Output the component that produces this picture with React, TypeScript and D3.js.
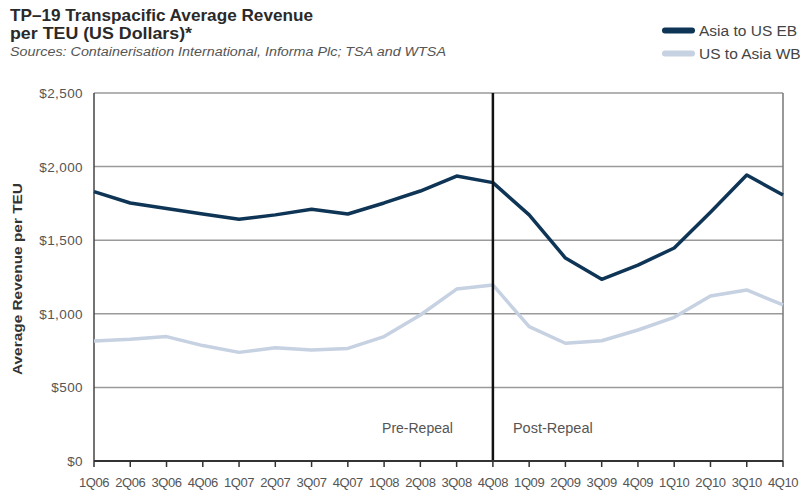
import React from "react";
import * as d3 from "d3";

const quarters = ["1Q06","2Q06","3Q06","4Q06","1Q07","2Q07","3Q07","4Q07","1Q08","2Q08","3Q08","4Q08","1Q09","2Q09","3Q09","4Q09","1Q10","2Q10","3Q10","4Q10"];
const asiaToUsEB = [1830,1753,1715,1678,1642,1672,1710,1678,1753,1834,1936,1891,1672,1379,1234,1331,1447,1690,1943,1807];
const usToAsiaWB = [815,827,845,784,738,770,754,765,845,992,1168,1196,913,800,817,890,976,1121,1162,1060];
const yTicks = [0,500,1000,1500,2000,2500];
const seriesNames = ["Asia to US EB","US to Asia WB"];
const repealQuarter = "4Q08";

const W = 800, H = 497;
const left = 94, right = 783, top = 93, bottom = 461;

export default function App() {
  const x = d3.scalePoint<string>().domain(quarters).range([left, right]);
  const y = d3.scaleLinear().domain([0, 2500]).range([bottom, top]);
  const line = d3.line<number>().x((_, i) => x(quarters[i]) as number).y(d => y(d));
  const fmt = (v: number) => "$" + d3.format(",")(v);
  const rx = x(repealQuarter) as number;
  const colors = ["#0f3556", "#c6d1e2"];

  return (
    <svg width={W} height={H} style={{ position: "absolute", left: 0, top: 0, background: "#fff" }} fontFamily="Liberation Sans, Arial, sans-serif">
      <rect width={W} height={H} fill="#fff" />
      <text x={10} y={21} fontSize={16.5} fontWeight="bold" fill="#2a2a2a" textLength={303} lengthAdjust="spacingAndGlyphs">TP–19 Transpacific Average Revenue</text>
      <text x={10} y={39} fontSize={16.5} fontWeight="bold" fill="#2a2a2a" textLength={182} lengthAdjust="spacingAndGlyphs">per TEU (US Dollars)*</text>
      <text x={10} y={56} fontSize={12.5} fontStyle="italic" fill="#555" textLength={436} lengthAdjust="spacingAndGlyphs">Sources: Containerisation International, Informa Plc; TSA and WTSA</text>

      {seriesNames.map((n, i) => (
        <g key={n}>
          <line x1={665} x2={692} y1={30.5 + i * 23} y2={30.5 + i * 23} stroke={colors[i]} strokeWidth={6} strokeLinecap="round" />
          <text x={699} y={36 + i * 23} fontSize={15.5} fill="#444">{n}</text>
        </g>
      ))}

      {yTicks.map(t => (
        <g key={t}>
          {t > 0 && <line x1={left} x2={right} y1={y(t)} y2={y(t)} stroke="#9a9a9a" strokeWidth={1.5} />}
          <text x={83} y={y(t) + 5} fontSize={13.5} textAnchor="end" fill="#555" letterSpacing={0.4}>{fmt(t)}</text>
        </g>
      ))}
      <text transform={`translate(22,279) rotate(-90)`} fontSize={12.5} fontWeight="bold" textAnchor="middle" fill="#333" textLength={192} lengthAdjust="spacingAndGlyphs">Average Revenue per TEU</text>

      <line x1={left} x2={left} y1={top} y2={bottom} stroke="#444" strokeWidth={1.5} />
      <line x1={right} x2={right} y1={top} y2={bottom} stroke="#777" strokeWidth={1.5} />

      <path d={line(usToAsiaWB) || ""} fill="none" stroke={colors[1]} strokeWidth={3.5} strokeLinejoin="round" />
      <path d={line(asiaToUsEB) || ""} fill="none" stroke={colors[0]} strokeWidth={3.5} strokeLinejoin="round" />

      <line x1={rx} x2={rx} y1={top} y2={bottom} stroke="#111" strokeWidth={2.5} />

      <line x1={left} x2={right} y1={bottom} y2={bottom} stroke="#333" strokeWidth={2} />
      {quarters.map(q => (
        <g key={q}>
          <line x1={x(q)} x2={x(q)} y1={bottom} y2={bottom + 6} stroke="#333" strokeWidth={1.5} />
          <text x={x(q)} y={487} fontSize={13} textAnchor="middle" fill="#555" letterSpacing={-0.4}>{q}</text>
        </g>
      ))}

      <text x={rx - 40} y={433} fontSize={14} textAnchor="end" fill="#555">Pre-Repeal</text>
      <text x={rx + 20} y={433} fontSize={14.5} textAnchor="start" fill="#555">Post-Repeal</text>
    </svg>
  );
}
